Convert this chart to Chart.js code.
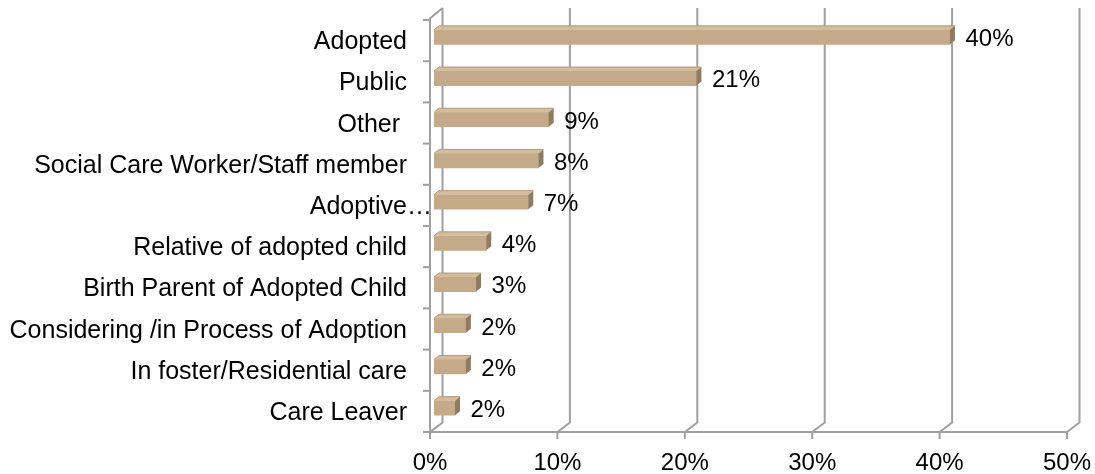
<!DOCTYPE html>
<html>
<head>
<meta charset="utf-8">
<script src="https://cdn.jsdelivr.net/npm/chart.js@4.4.1/dist/chart.umd.min.js"></script>
<style>
  html, body { margin: 0; padding: 0; background: #ffffff; }
  #c { display: block; }
</style>
</head>
<body>
<canvas id="c" width="1095" height="474"></canvas>
<script>
const categories = [
  "Adopted",
  "Public",
  "Other ",
  "Social Care Worker/Staff member",
  "Adoptive\u2026",
  "Relative of adopted child",
  "Birth Parent of Adopted Child",
  "Considering /in Process of Adoption",
  "In foster/Residential care",
  "Care Leaver"
];
const values = [40.5, 20.6, 9.0, 8.2, 7.4, 4.1, 3.3, 2.5, 2.5, 1.65];
const valueLabels = ["40%", "21%", "9%", "8%", "7%", "4%", "3%", "2%", "2%", "2%"];
const xTickValues = [0, 10, 20, 30, 40, 50];
const xTickLabels = ["0%", "10%", "20%", "30%", "40%", "50%"];

const CAT_FONT = '25px "Liberation Sans", Arial, Helvetica, sans-serif';
const FONT = '24px "Liberation Sans", Arial, Helvetica, sans-serif';
const GRID = '#a0a0a0';
const FRONT_DX = -4;     // front plane relative to bar plane
const DEPTH_X = 12.5;    // back wall offset
const CAT_DY = 3.5;      // category plane offset
const BAR_DX = 5, BAR_DY = 4;

const threeD = {
  id: 'threeD',
  beforeDatasetsDraw(chart) {
    const { ctx, chartArea: a, scales: { x, y } } = chart;
    const fTop = a.top + CAT_DY, fBot = a.bottom + CAT_DY;
    const bTop = fTop - 12, bBot = fBot - 9.5;
    ctx.save();
    ctx.strokeStyle = GRID;
    ctx.lineWidth = 2;
    ctx.lineJoin = 'miter';
    xTickValues.forEach(v => {
      const xf = x.getPixelForValue(v) + FRONT_DX;
      const xb = xf + DEPTH_X;
      ctx.beginPath();
      ctx.moveTo(xb, bTop);
      ctx.lineTo(xb, bBot);
      ctx.lineTo(xf, fBot);
      ctx.stroke();
      ctx.beginPath();
      ctx.moveTo(xf, fBot);
      ctx.lineTo(xf, fBot + 7);
      ctx.stroke();
    });
    const x0 = x.getPixelForValue(xTickValues[0]) + FRONT_DX;
    const xN = x.getPixelForValue(xTickValues[xTickValues.length - 1]) + FRONT_DX;
    ctx.beginPath();
    ctx.moveTo(x0, fBot);
    ctx.lineTo(xN, fBot);
    ctx.stroke();
    ctx.beginPath();
    ctx.moveTo(x0, fBot);
    ctx.lineTo(x0, fTop - 1.5);
    ctx.lineTo(x0 + DEPTH_X, bTop);
    ctx.stroke();
    const n = categories.length;
    for (let i = 0; i <= n; i++) {
      const yy = fTop + i * (fBot - fTop) / n;
      ctx.beginPath();
      ctx.moveTo(x0 - 7, yy);
      ctx.lineTo(x0, yy);
      ctx.stroke();
    }
    ctx.restore();
  },
  afterDatasetsDraw(chart) {
    const { ctx } = chart;
    const meta = chart.getDatasetMeta(0);
    ctx.save();
    meta.data.forEach(el => {
      const p = el.getProps(['x', 'y', 'base', 'height'], true);
      const l = p.base, r = p.x, t = p.y - p.height / 2, b = p.y + p.height / 2;
      ctx.fillStyle = '#d3bd9d';
      ctx.beginPath();
      ctx.moveTo(l, t);
      ctx.lineTo(l + BAR_DX, t - BAR_DY);
      ctx.lineTo(r + BAR_DX, t - BAR_DY);
      ctx.lineTo(r, t);
      ctx.closePath();
      ctx.fill();
      ctx.strokeStyle = '#b49a78';
      ctx.lineWidth = 1;
      ctx.beginPath();
      ctx.moveTo(l, t);
      ctx.lineTo(l + BAR_DX, t - BAR_DY);
      ctx.lineTo(r + BAR_DX, t - BAR_DY);
      ctx.stroke();
      ctx.fillStyle = '#8e7b62';
      ctx.beginPath();
      ctx.moveTo(r, t);
      ctx.lineTo(r + BAR_DX, t - BAR_DY);
      ctx.lineTo(r + BAR_DX, b - BAR_DY);
      ctx.lineTo(r, b);
      ctx.closePath();
      ctx.fill();
    });
    ctx.restore();
  },
  afterDraw(chart) {
    const { ctx, scales: { x, y } } = chart;
    const meta = chart.getDatasetMeta(0);
    ctx.save();
    ctx.fillStyle = '#000000';
    ctx.textBaseline = 'alphabetic';
    const x0 = x.getPixelForValue(0) + FRONT_DX;
    const labelRight = x0 - 23;
    ctx.font = CAT_FONT;
    categories.forEach((c, i) => {
      const yy = y.getPixelForValue(i) + CAT_DY + 8.5;
      if (c.endsWith('\u2026')) {
        const stem = c.slice(0, -1);
        ctx.textAlign = 'left';
        ctx.fillText(c, labelRight - ctx.measureText(stem).width, yy);
      } else {
        ctx.textAlign = 'right';
        ctx.fillText(c, labelRight, yy);
      }
    });
    ctx.font = FONT;
    ctx.textAlign = 'left';
    meta.data.forEach((el, i) => {
      const p = el.getProps(['x', 'y'], true);
      ctx.fillText(valueLabels[i], p.x + 15.5, p.y + 9);
    });
    ctx.textAlign = 'center';
    xTickValues.forEach((v, i) => {
      ctx.fillText(xTickLabels[i], x.getPixelForValue(v) + FRONT_DX, 469.5);
    });
    ctx.restore();
  }
};

new Chart(document.getElementById('c'), {
  type: 'bar',
  data: {
    labels: categories,
    datasets: [{
      data: values,
      backgroundColor: '#c4aa88',
      borderWidth: 0,
      barThickness: 14.5
    }]
  },
  options: {
    indexAxis: 'y',
    responsive: false,
    devicePixelRatio: 1,
    animation: false,
    layout: { padding: { left: 434, right: 24, top: 16.5, bottom: 45.5 } },
    plugins: { legend: { display: false }, tooltip: { enabled: false } },
    scales: {
      x: { display: false, min: 0, max: 50 },
      y: { display: false }
    }
  },
  plugins: [threeD]
});
</script>
</body>
</html>
